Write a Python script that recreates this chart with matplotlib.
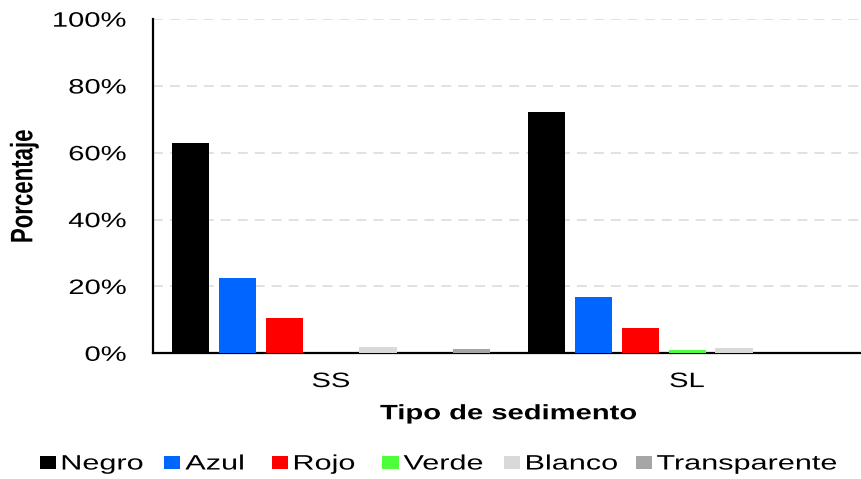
import matplotlib
matplotlib.use("Agg")
import matplotlib.pyplot as plt
import numpy as np
from matplotlib.ticker import PercentFormatter
from matplotlib.patheffects import AbstractPathEffect
from matplotlib.transforms import Affine2D

# datos (fraccion); 7 huecos por grupo, el sexto vacio
grupos = ["SS", "SL"]
colores_nombre = ["Negro", "Azul", "Rojo", "Verde", "Blanco", "Transparente"]
huecos = [0, 1, 2, 3, 4, 6]
ss = [0.629, 0.225, 0.106, 0.0, 0.018, 0.013]
sl = [0.722, 0.170, 0.075, 0.010, 0.016, 0.0]
colores = ["#000000", "#0066ff", "#ff0000", "#4dff3a", "#d9d9d9", "#a6a6a6"]


class Estirar(AbstractPathEffect):
    # el original esta estirado en horizontal, se imita en el texto
    def __init__(self, sx=1.4, pivote="center"):
        super().__init__()
        self.sx = sx
        self.pivote = pivote

    def draw_path(self, renderer, gc, tpath, affine, rgbFace=None):
        bb = tpath.get_extents(affine)
        if self.pivote == "left":
            px = bb.x0
        elif self.pivote == "right":
            px = bb.x1
        else:
            px = 0.5 * (bb.x0 + bb.x1)
        t = affine + Affine2D().translate(-px, 0).scale(self.sx, 1).translate(px, 0)
        renderer.draw_path(gc, tpath, t, rgbFace)


plt.rcParams["font.family"] = ["Liberation Sans", "DejaVu Sans"]

fig = plt.figure(figsize=(8.62, 4.79), dpi=100)
ax = fig.add_axes([0.1775, 0.2624, 0.8260, 0.6976])

x = np.arange(len(grupos))
paso = 0.132
ancho = 0.104
valores = np.array([ss, sl])
for i, nombre in enumerate(colores_nombre):
    ax.bar(x + (huecos[i] - 3) * paso, valores[:, i], ancho, color=colores[i],
           label=nombre, zorder=3)

ax.set_xlim(-0.5, 1.5)
ax.set_ylim(0, 1)
ax.set_yticks(np.arange(0, 1.01, 0.2))
ax.yaxis.set_major_formatter(PercentFormatter(1.0, decimals=0))
ax.grid(axis="y", color="#d9d9d9", linestyle=(0, (6.5, 4.6)), linewidth=1.1, zorder=0)
ax.set_xticks(x)
ax.set_xticklabels(grupos)
ax.tick_params(axis="both", length=0, labelsize=15, colors="#000000")
ax.tick_params(axis="y", pad=19)
ax.tick_params(axis="x", pad=13.5)
for t in ax.get_yticklabels():
    t.set_path_effects([Estirar(1.4, "right")])
for t in ax.get_xticklabels():
    t.set_path_effects([Estirar(1.4, "center")])

for s in ["top", "right"]:
    ax.spines[s].set_visible(False)
ax.spines["left"].set_linewidth(1.6)
ax.spines["bottom"].set_linewidth(1.6)

ax.set_xlabel("Tipo de sedimento", fontsize=15, fontweight="bold", labelpad=9.5,
              path_effects=[Estirar(1.4, "center")])
ax.set_ylabel("Porcentaje", fontsize=16, fontweight="bold",
              path_effects=[Estirar(1.4, "center")])
ax.yaxis.set_label_coords(-0.1657, 0.5)

leg = fig.legend(loc="center left", bbox_to_anchor=(0.0464, 0.0313), ncol=6,
                 frameon=False, fontsize=15, borderpad=0, borderaxespad=0,
                 handlelength=0.77, handleheight=0.58, handletextpad=0.24,
                 columnspacing=2.22)
for t in leg.get_texts():
    t.set_path_effects([Estirar(1.47, "left")])

fig.savefig("out.png", dpi=100)
